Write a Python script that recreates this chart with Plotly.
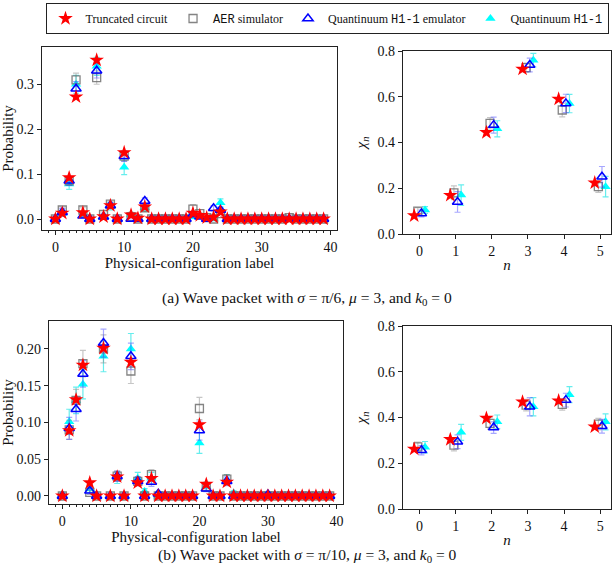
import plotly.graph_objects as go

# ---------------- data ----------------
config_labels = list(range(40))
n_labels = [0, 1, 2, 3, 4, 5]

# (a) sigma = pi/6 : probabilities per physical configuration
a_trunc = [0.0, 0.013, 0.092, 0.272, 0.014, 0.0, 0.354, 0.005, 0.030, 0.0,
           0.148, 0.009, 0.002, 0.027, 0.0, 0.0, 0.0, 0.0, 0.0, 0.0,
           0.013, 0.008, 0.003, 0.004, 0.016, 0.0, 0.0, 0.0, 0.0, 0.0,
           0.0, 0.0, 0.0, 0.0, 0.0, 0.0, 0.0, 0.0, 0.0, 0.0]
a_aer = [0.0, 0.020, 0.085, 0.310, 0.020, 0.0, 0.315, 0.010, 0.033, 0.0,
         0.140, 0.005, 0.0, 0.025, 0.0, 0.0, 0.0, 0.0, 0.0, 0.0,
         0.022, 0.012, 0.003, 0.0, 0.012, 0.0, 0.0, 0.0, 0.0, 0.0,
         0.0, 0.0, 0.0, 0.0, 0.003, 0.0, 0.0, 0.0, 0.0, 0.0]
a_aer_err = [0.0, 0.005, 0.009, 0.015, 0.005, 0.0, 0.015, 0.003, 0.006, 0.0,
             0.011, 0.002, 0.0, 0.005, 0.0, 0.0, 0.0, 0.0, 0.0, 0.0,
             0.010, 0.003, 0.002, 0.0, 0.003, 0.0, 0.0, 0.0, 0.0, 0.0,
             0.0, 0.0, 0.0, 0.0, 0.002, 0.0, 0.0, 0.0, 0.0, 0.0]
a_emu = [0.0, 0.015, 0.085, 0.290, 0.007, 0.0, 0.330, 0.005, 0.030, 0.0,
         0.140, 0.0, 0.0, 0.040, 0.0, 0.0, 0.0, 0.0, 0.0, 0.0,
         0.010, 0.005, 0.0, 0.024, 0.020, 0.0, 0.0, 0.0, 0.0, 0.0,
         0.0, 0.0, 0.0, 0.0, 0.0, 0.0, 0.0, 0.0, 0.0, 0.0]
a_emu_err = [0.0, 0.008, 0.010, 0.016, 0.004, 0.0, 0.016, 0.003, 0.006, 0.0,
             0.012, 0.0, 0.0, 0.007, 0.0, 0.0, 0.0, 0.0, 0.0, 0.0,
             0.004, 0.003, 0.0, 0.006, 0.005, 0.0, 0.0, 0.0, 0.0, 0.0,
             0.0, 0.0, 0.0, 0.0, 0.0, 0.0, 0.0, 0.0, 0.0, 0.0]
a_h1 = [0.002, 0.012, 0.078, 0.300, 0.008, 0.0, 0.340, 0.003, 0.028, 0.0,
        0.115, 0.010, 0.0, 0.025, 0.0, 0.0, 0.0, 0.0, 0.0, 0.0,
        0.005, 0.006, 0.0, 0.0, 0.036, 0.0, 0.0, 0.0, 0.0, 0.0,
        0.0, 0.0, 0.0, 0.0, 0.0, 0.0, 0.0, 0.0, 0.0, 0.0]
a_h1_err = [0.002, 0.006, 0.012, 0.020, 0.004, 0.0, 0.020, 0.003, 0.008, 0.0,
            0.016, 0.005, 0.0, 0.007, 0.0, 0.0, 0.0, 0.0, 0.0, 0.0,
            0.004, 0.004, 0.0, 0.0, 0.009, 0.0, 0.0, 0.0, 0.0, 0.0,
            0.0, 0.0, 0.0, 0.0, 0.0, 0.0, 0.0, 0.0, 0.0, 0.0]

# (a) chi_n
a_chi_trunc = [0.080, 0.169, 0.444, 0.721, 0.590, 0.224]
a_chi_aer = [0.100, 0.180, 0.484, 0.727, 0.542, 0.207]
a_chi_aer_err = [0.015, 0.030, 0.025, 0.020, 0.030, 0.025]
a_chi_emu = [0.090, 0.140, 0.476, 0.739, 0.571, 0.250]
a_chi_emu_err = [0.015, 0.045, 0.035, 0.030, 0.040, 0.045]
a_chi_h1 = [0.105, 0.170, 0.460, 0.760, 0.570, 0.207]
a_chi_h1_err = [0.015, 0.045, 0.035, 0.030, 0.040, 0.045]

# (b) sigma = pi/10 : probabilities per physical configuration
b_trunc = [0.0, 0.089, 0.131, 0.178, 0.018, 0.0, 0.201, 0.0, 0.026, 0.0,
           0.182, 0.018, 0.0, 0.024, 0.0, 0.0, 0.0, 0.0, 0.0, 0.0,
           0.097, 0.016, 0.0, 0.0, 0.019, 0.0, 0.0, 0.0, 0.0, 0.0,
           0.0, 0.0, 0.0, 0.0, 0.0, 0.0, 0.0, 0.0, 0.0, 0.0]
b_aer = [0.0, 0.090, 0.130, 0.180, 0.005, 0.0, 0.200, 0.0, 0.027, 0.0,
         0.170, 0.020, 0.0, 0.029, 0.0, 0.0, 0.0, 0.0, 0.0, 0.0,
         0.119, 0.012, 0.0, 0.0, 0.023, 0.0, 0.0, 0.0, 0.0, 0.0,
         0.0, 0.0, 0.0, 0.0, 0.0, 0.0, 0.0, 0.0, 0.0, 0.0]
b_aer_err = [0.0, 0.013, 0.015, 0.018, 0.003, 0.0, 0.019, 0.0, 0.007, 0.0,
             0.017, 0.006, 0.0, 0.007, 0.0, 0.0, 0.0, 0.0, 0.0, 0.0,
             0.015, 0.004, 0.0, 0.0, 0.006, 0.0, 0.0, 0.0, 0.0, 0.0,
             0.0, 0.0, 0.0, 0.0, 0.0, 0.0, 0.0, 0.0, 0.0, 0.0]
b_emu = [0.0, 0.092, 0.118, 0.166, 0.007, 0.0, 0.208, 0.0, 0.027, 0.0,
         0.190, 0.020, 0.0, 0.019, 0.003, 0.0, 0.0, 0.0, 0.0, 0.0,
         0.089, 0.010, 0.0, 0.0, 0.020, 0.0, 0.0, 0.0, 0.0, 0.0,
         0.002, 0.0, 0.0, 0.0, 0.0, 0.0, 0.0, 0.0, 0.0, 0.0]
b_emu_err = [0.0, 0.015, 0.016, 0.018, 0.004, 0.0, 0.019, 0.0, 0.007, 0.0,
             0.018, 0.006, 0.0, 0.006, 0.002, 0.0, 0.0, 0.0, 0.0, 0.0,
             0.013, 0.004, 0.0, 0.0, 0.006, 0.0, 0.0, 0.0, 0.0, 0.0,
             0.002, 0.0, 0.0, 0.0, 0.0, 0.0, 0.0, 0.0, 0.0, 0.0]
b_h1 = [0.002, 0.101, 0.130, 0.152, 0.010, 0.0, 0.190, 0.0, 0.025, 0.0,
        0.200, 0.024, 0.006, 0.024, 0.0, 0.0, 0.0, 0.0, 0.0, 0.0,
        0.072, 0.013, 0.0, 0.0, 0.022, 0.004, 0.0, 0.0, 0.0, 0.002,
        0.0, 0.0, 0.0, 0.0, 0.0, 0.002, 0.0, 0.0, 0.0, 0.0]
b_h1_err = [0.002, 0.017, 0.018, 0.020, 0.005, 0.0, 0.021, 0.0, 0.008, 0.0,
            0.021, 0.008, 0.004, 0.008, 0.0, 0.0, 0.0, 0.0, 0.0, 0.0,
            0.014, 0.006, 0.0, 0.0, 0.007, 0.003, 0.0, 0.0, 0.0, 0.002,
            0.0, 0.0, 0.0, 0.0, 0.0, 0.002, 0.0, 0.0, 0.0, 0.0]

# (b) chi_n
b_chi_trunc = [0.262, 0.304, 0.397, 0.468, 0.473, 0.359]
b_chi_aer = [0.272, 0.279, 0.374, 0.454, 0.457, 0.371]
b_chi_aer_err = [0.020, 0.025, 0.025, 0.025, 0.025, 0.025]
b_chi_emu = [0.257, 0.294, 0.356, 0.447, 0.476, 0.362]
b_chi_emu_err = [0.020, 0.030, 0.025, 0.040, 0.030, 0.030]
b_chi_h1 = [0.270, 0.335, 0.381, 0.447, 0.500, 0.381]
b_chi_h1_err = [0.025, 0.035, 0.030, 0.040, 0.035, 0.035]

chi_offsets = {"trunc": -0.15, "aer": -0.05, "emu": 0.05, "h1": 0.15}

MONO = "Liberation Mono"
series_names = ["Truncated circuit",
                f"<span style='font-family:{MONO}'>AER</span> simulator",
                f"Quantinuum <span style='font-family:{MONO}'>H1-1</span> emulator",
                f"Quantinuum <span style='font-family:{MONO}'>H1-1</span>"]

# ---------------- styles ----------------
SERIF = "Liberation Serif, Times New Roman, serif"
RED = "#ff0000"
CYAN = "#00ffff"
BLUE = "#0000ff"

fig = go.Figure()


def add_panel(xs, trunc, aer, aer_err, emu, emu_err, h1, h1_err, xa, ya, show, offsets=None):
    def sx(key):
        if offsets is None:
            return xs
        return [v + offsets[key] for v in xs]

    fig.add_trace(go.Scatter(
        x=sx("h1"), y=h1, mode="markers", name=series_names[3], legendrank=4,
        showlegend=show, legendgroup="h1", xaxis=xa, yaxis=ya,
        marker=dict(symbol="triangle-up", size=9, color=CYAN, line=dict(width=0)),
        error_y=dict(type="data", array=h1_err, color="rgba(0,225,225,0.6)", thickness=1.2, width=3)))
    fig.add_trace(go.Scatter(
        x=sx("aer"), y=aer, mode="markers", name=series_names[1], legendrank=2,
        showlegend=show, legendgroup="aer", xaxis=xa, yaxis=ya,
        marker=dict(symbol="square-open", size=8, color="rgba(110,110,110,0.85)", line=dict(width=1.3)),
        error_y=dict(type="data", array=aer_err, color="rgba(128,128,128,0.45)", thickness=1.2, width=3)))
    fig.add_trace(go.Scatter(
        x=sx("emu"), y=emu, mode="markers", name=series_names[2], legendrank=3,
        showlegend=show, legendgroup="emu", xaxis=xa, yaxis=ya,
        marker=dict(symbol="triangle-up-open", size=9, color=BLUE, line=dict(width=1.5)),
        error_y=dict(type="data", array=emu_err, color="rgba(60,60,255,0.45)", thickness=1.2, width=3)))
    fig.add_trace(go.Scatter(
        x=sx("trunc"), y=trunc, mode="markers", name=series_names[0], legendrank=1,
        showlegend=show, legendgroup="trunc", xaxis=xa, yaxis=ya,
        marker=dict(symbol="star", size=11, color=RED, line=dict(width=0))))


add_panel(config_labels, a_trunc, a_aer, a_aer_err, a_emu, a_emu_err, a_h1, a_h1_err, "x", "y", True)
add_panel(n_labels, a_chi_trunc, a_chi_aer, a_chi_aer_err, a_chi_emu, a_chi_emu_err,
          a_chi_h1, a_chi_h1_err, "x2", "y2", False, chi_offsets)
add_panel(config_labels, b_trunc, b_aer, b_aer_err, b_emu, b_emu_err, b_h1, b_h1_err, "x3", "y3", False)
add_panel(n_labels, b_chi_trunc, b_chi_aer, b_chi_aer_err, b_chi_emu, b_chi_emu_err,
          b_chi_h1, b_chi_h1_err, "x4", "y4", False, chi_offsets)

W, H = 614, 579


def dx(a, b):
    return [a / W, b / W]


def dy(top, bottom):
    return [1 - bottom / H, 1 - top / H]


axis_common = dict(showline=True, mirror=True, linecolor="#222", linewidth=1.2,
                   ticks="outside", ticklen=4, tickwidth=1, tickcolor="#222",
                   showgrid=False, zeroline=False, automargin=False,
                   tickfont=dict(family=SERIF, size=14, color="#111"),
                   title_font=dict(family=SERIF, size=15, color="#111"))
minor_x = dict(ticks="outside", ticklen=2, tickwidth=1, tickcolor="#222", dtick=1, showgrid=False)

fig.update_layout(
    width=W, height=H, template="none",
    font=dict(family=SERIF, size=13, color="#111"),
    paper_bgcolor="white", plot_bgcolor="white",
    margin=dict(l=0, r=0, t=0, b=0),
    showlegend=True,
    legend=dict(orientation="h", x=327 / W, xanchor="center", y=1 - 3 / H, yanchor="top",
                bordercolor="#222", borderwidth=1, bgcolor="white",
                font=dict(family=SERIF, size=12, color="#111"),
                itemwidth=30, tracegroupgap=0),
    xaxis=dict(axis_common, domain=dx(42, 337), anchor="y", range=[-1.95, 40.95],
               tickvals=[0, 10, 20, 30, 40], minor=minor_x,
               title=dict(text="Physical-configuration label", standoff=1)),
    yaxis=dict(axis_common, domain=dy(47, 230), anchor="x", range=[-0.0245, 0.383],
               tickvals=[0.0, 0.1, 0.2, 0.3], tickformat=".1f",
               title=dict(text="Probability", standoff=5)),
    xaxis2=dict(axis_common, domain=dx(403, 611), anchor="y2", range=[-0.46, 5.3],
                tickvals=n_labels, title=dict(text="<i>n</i>", standoff=1)),
    yaxis2=dict(axis_common, domain=dy(51, 234), anchor="x2", range=[0, 0.8],
                tickvals=[0.0, 0.2, 0.4, 0.6, 0.8], tickformat=".1f",
                title=dict(text="<i>χ<sub>n</sub></i>", standoff=7)),
    xaxis3=dict(axis_common, domain=dx(49, 343), anchor="y3", range=[-1.95, 40.95],
                tickvals=[0, 10, 20, 30, 40], minor=minor_x,
                title=dict(text="Physical-configuration label", standoff=1)),
    yaxis3=dict(axis_common, domain=dy(321, 504), anchor="x3", range=[-0.0109, 0.238],
                tickvals=[0.0, 0.05, 0.10, 0.15, 0.20], tickformat=".2f",
                title=dict(text="Probability", standoff=5)),
    xaxis4=dict(axis_common, domain=dx(403, 611), anchor="y4", range=[-0.46, 5.3],
                tickvals=n_labels, title=dict(text="<i>n</i>", standoff=1)),
    yaxis4=dict(axis_common, domain=dy(326, 509), anchor="x4", range=[0, 0.8],
                tickvals=[0.0, 0.2, 0.4, 0.6, 0.8], tickformat=".1f",
                title=dict(text="<i>χ<sub>n</sub></i>", standoff=7)),
    annotations=[
        dict(text="(a) Wave packet with <i>σ</i> = π/6, <i>μ</i> = 3, and <i>k</i><sub>0</sub> = 0",
             x=307 / W, y=1 - 298 / H, xref="paper", yref="paper", showarrow=False,
             font=dict(family=SERIF, size=15.5, color="#111")),
        dict(text="(b) Wave packet with <i>σ</i> = π/10, <i>μ</i> = 3, and <i>k</i><sub>0</sub> = 0",
             x=307 / W, y=1 - 567 / H, xref="paper", yref="paper", showarrow=False,
             font=dict(family=SERIF, size=15.5, color="#111")),
    ],
)

fig.write_html("out.html", config={"displayModeBar": False},
               post_script="document.body.style.margin='0';")
